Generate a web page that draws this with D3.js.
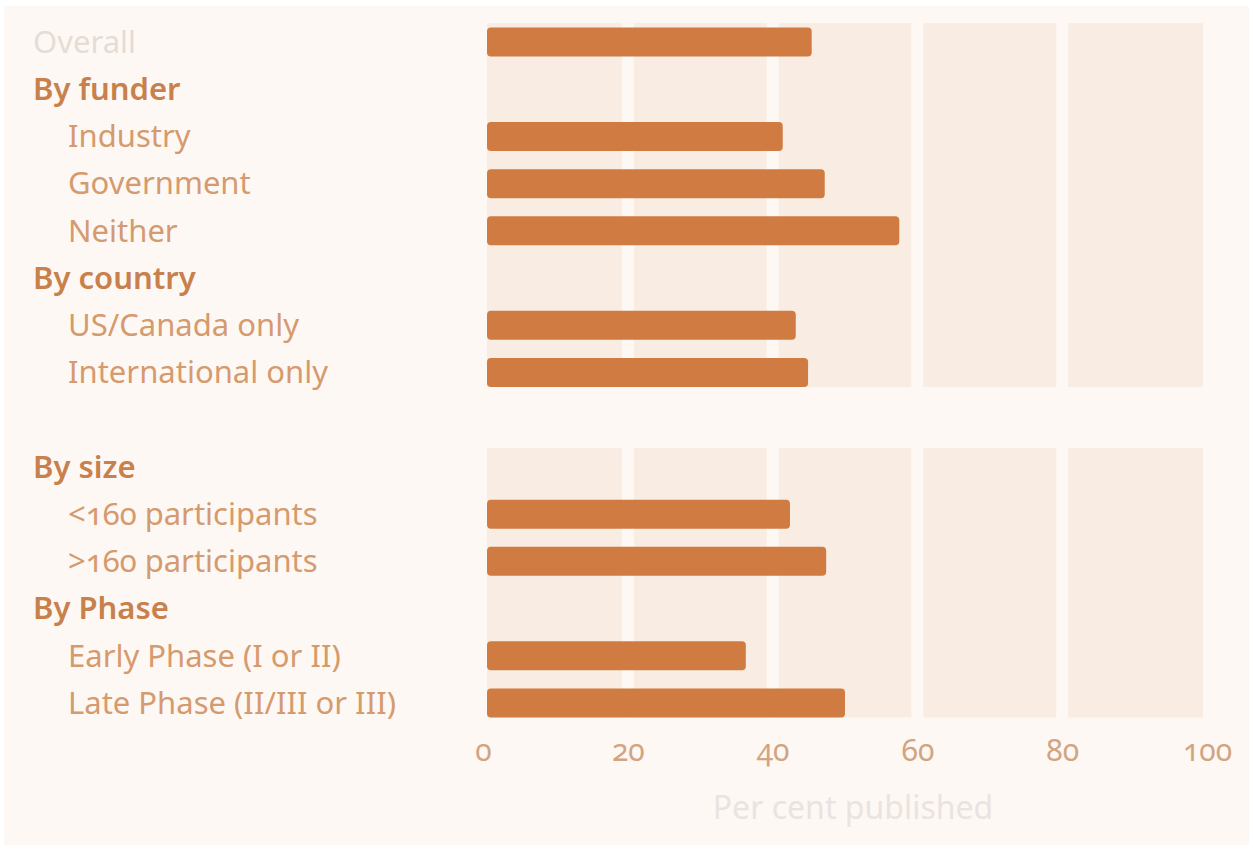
<!DOCTYPE html>
<html>
<head>
<meta charset="utf-8">
<script src="https://cdn.jsdelivr.net/npm/d3@7"></script>
<style>
  html, body { margin: 0; padding: 0; background: #ffffff; }
  svg { display: block; }
  text { font-family: "Noto Sans", "Open Sans", sans-serif; font-variant-numeric: oldstyle-nums; font-feature-settings: "onum" 1; }
</style>
</head>
<body>
<svg id="chart" width="1253" height="849"></svg>
<script>
// ---- data ----
const rowLabels = ["Overall", "By funder", "Industry", "Government", "Neither",
  "By country", "US/Canada only", "International only", "",
  "By size", "<160 participants", ">160 participants",
  "By Phase", "Early Phase (I or II)", "Late Phase (II/III or III)"];
const rowTypes = ["overall", "header", "item", "item", "item",
  "header", "item", "item", "blank",
  "header", "item", "item",
  "header", "item", "item"];
const values = [45.4, null, 41.4, 47.2, 57.5,
  null, 43.2, 44.9, null,
  null, 42.4, 47.4,
  null, 36.3, 50.0];
const tickValues = [0, 20, 40, 60, 80, 100];
const tickLabels = ["0", "20", "40", "60", "80", "100"];
const axisTitle = "Per cent published";
// sections with background bands (start row index, end row index)
const bandSections = [[0, 7], [9, 14]];

// ---- layout ----
const W = 1253, H = 849;
const svg = d3.select("#chart");
const rowIds = rowLabels.map((d, i) => i);

const x = d3.scaleLinear().domain([0, 100]).range([483, 1207]);
const y = d3.scalePoint().domain(rowIds).range([42, 703]);
const step = y.step();
const barH = 29;
const gap = 12;
const plotLeft = 487, plotRight = 1203;

// page background
svg.append("rect").attr("x", 0).attr("y", 0).attr("width", W).attr("height", H).attr("fill", "#ffffff");
svg.append("rect").attr("x", 4).attr("y", 6).attr("width", W - 8).attr("height", H - 10).attr("fill", "#fdf8f4");

// background bands between gridlines
const bandG = svg.append("g");
bandSections.forEach(([s, e]) => {
  const top = y(s) - 0.4 * step;
  const bottom = y(e) + barH / 2;
  for (let i = 0; i < tickValues.length - 1; i++) {
    const x0 = i === 0 ? plotLeft : x(tickValues[i]) + gap / 2;
    const x1 = i === tickValues.length - 2 ? plotRight : x(tickValues[i + 1]) - gap / 2;
    bandG.append("rect")
      .attr("x", x0).attr("y", top)
      .attr("width", x1 - x0).attr("height", bottom - top)
      .attr("fill", "#f8ece3");
  }
});

// bars
svg.append("g").selectAll("rect")
  .data(rowIds.filter(i => values[i] != null))
  .join("rect")
  .attr("x", plotLeft)
  .attr("y", i => y(i) - barH / 2)
  .attr("width", i => x(values[i]) - plotLeft)
  .attr("height", barH)
  .attr("rx", 4).attr("ry", 4)
  .attr("fill", "#d07b42");

// row labels
const colorFor = { overall: "#e6dcd6", header: "#c8804c", item: "#d59a6e" };
svg.append("g").selectAll("text")
  .data(rowIds.filter(i => rowTypes[i] !== "blank"))
  .join("text")
  .attr("x", i => rowTypes[i] === "item" ? 68 : 33)
  .attr("y", i => y(i))
  .attr("dy", "0.35em")
  .attr("font-size", 31)
  .attr("font-weight", i => rowTypes[i] === "header" ? 600 : 400)
  .attr("fill", i => colorFor[rowTypes[i]])
  .text(i => rowLabels[i]);

// x axis (tick labels only)
const axis = d3.axisBottom(x).tickValues(tickValues)
  .tickFormat((d, i) => tickLabels[i]).tickSize(0).tickPadding(0);
const axG = svg.append("g").attr("transform", "translate(0,740)").call(axis);
axG.select(".domain").remove();
axG.selectAll("text")
  .attr("font-size", 30)
  .attr("fill", "#d2a482")
  .style("font-family", "\"Noto Sans\", sans-serif");

// axis title
svg.append("text")
  .attr("x", 853).attr("y", 808)
  .attr("dy", "0.35em")
  .attr("text-anchor", "middle")
  .attr("font-size", 32)
  .attr("fill", "#ebe3e0")
  .text(axisTitle);
</script>
</body>
</html>
